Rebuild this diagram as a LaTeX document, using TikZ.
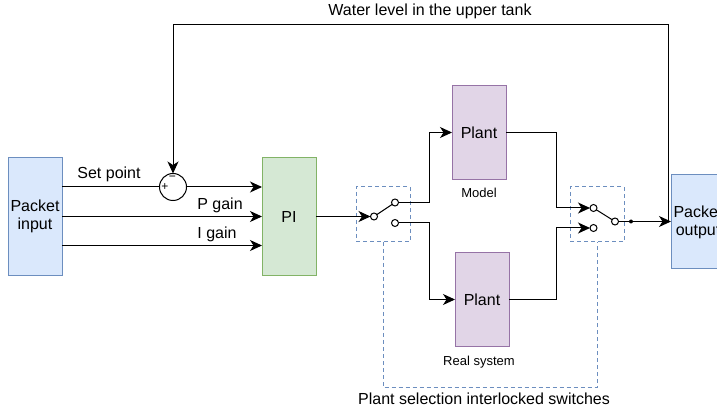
\documentclass[tikz,border=0pt]{standalone}
\usepackage{fontspec}
\setmainfont{Liberation Sans}
\usetikzlibrary{positioning, arrows.meta}

\definecolor{bluefill}{HTML}{DAE8FC}
\definecolor{blueline}{HTML}{6C8EBF}
\definecolor{greenfill}{HTML}{D5E8D4}
\definecolor{greenline}{HTML}{82B366}
\definecolor{purplefill}{HTML}{E1D5E7}
\definecolor{purpleline}{HTML}{9673A6}

\begin{document}
\begin{tikzpicture}[x=1pt, y=-1pt, font=\fontsize{16}{18}\selectfont,
        bigrect/.style={rectangle, minimum width=54pt, minimum height=118pt,
            inner sep=0pt, outer sep=0pt, align=center, line width=1pt},
        packetrect/.style={bigrect, draw=blueline, fill=bluefill},
        plantrect/.style={bigrect, draw=purpleline, fill=purplefill, minimum height=94pt},
        selectrect/.style={rectangle, draw=blueline, selectdash, minimum width=54pt,
            minimum height=55pt, inner sep=0pt, outer sep=0pt},
        selectdash/.style={line width=1pt, dash pattern=on 4pt off 3pt},
        contact/.style={circle, draw=black, fill=white, line width=1pt, minimum size=7pt,
            inner sep=0pt, outer sep=0pt},
        round/.style={circle, draw=black, fill=white, line width=1pt, minimum size=27pt,
            inner sep=0pt, outer sep=0pt},
        wire/.style={draw=black, line width=1pt},
        arrow/.style={wire, -{Stealth[length=12pt, width=11pt, inset=3.5pt]}},
        smalltext/.style={font=\fontsize{13}{15}\selectfont},
    ]

        \useasboundingbox (0,0) rectangle (717,411);
        \clip (0,0) rectangle (717,411);

        \node[packetrect] (packetin) at (35,216.5) {Packet\\input};

        \node[bigrect, draw=greenline, fill=greenfill] (pi) [right=200pt of packetin]
        {PI};

        \node[round] (sum) at (173,187) {};
        \node[font=\fontsize{12}{14}\selectfont] (minus) at (172.5,178) {−};
        \node[font=\fontsize{12}{14}\selectfont] (plus) at (165,187.5) {+};

        \node[plantrect] (model) at (479,132.5) {Plant};
        \node[plantrect] (realsys) at (482,299.5) {Plant};

        \node[packetrect, minimum height=94pt] (packetout) at (698,222) {Packet\\output};

        \node[selectrect] (selin) at (383,214.5) {};
        \node[selectrect] (selout) at (597,214.5) {};

        \node[contact] (incom) at (374,216.5) {};
        \node[contact] (inmodel) at (395,202.5) {};
        \node[contact] (inreal) at (395,223) {};

        \node[contact] (outmodel) at (593.5,208) {};
        \node[contact] (outreal) at (593.5,228) {};
        \node[contact] (outcom) at (615,221.5) {};
        \node[circle, fill=black, minimum size=4pt, inner sep=0pt] (joint) at (631,221.5) {};

        \coordinate (topright) at (668,25);

        \node (setlabel) at (109,174) {Set point};
        \node (plabel) at (220,205) {P gain};
        \node (ilabel) at (217,234) {I gain};
        \node (waterlabel) at (430,11) {Water level in the upper tank};
        \node[smalltext] (modellabel) [below=5pt of model] {Model};
        \node[smalltext] (reallabel) [below=6pt of realsys, xshift=-3pt] {Real system};
        \node (sellabel) at (484,399) {Plant selection interlocked switches};

        \draw[wire] (packetin.east |- sum) -- (sum.west);
        \draw[arrow] (sum.east) -- (sum -| pi.west);
        \draw[arrow] (packetin.east) -- (pi.west);
        \draw[arrow] ([yshift=-29pt]packetin.east) -- ([yshift=-29pt]pi.west);

        \draw[arrow] (pi.east) -- (incom.west);
        \draw[wire] (incom) -- (inmodel);
        \draw[arrow] (inmodel.east) -- ++(31,0) |- (model.west);
        \draw[arrow] (inreal.east) -- ++(31,0) |- (realsys.west);

        \draw[arrow] (model.east) -- ++(50,0) |- (outmodel.west);
        \draw[arrow] (realsys.east) -- ++(47,0) |- (outreal.west);
        \draw[wire] (outmodel) -- (outcom);
        \draw[wire] (outcom.east) -- (joint);
        \draw[arrow] (joint) -- (joint -| packetout.west);

        \draw[arrow] (joint -| topright) -- (topright) -| (sum.north);

        \draw[draw=blueline, selectdash] (selin.south) -- ++(0,145.5) -| (selout.south);
    \end{tikzpicture}
\end{document}
